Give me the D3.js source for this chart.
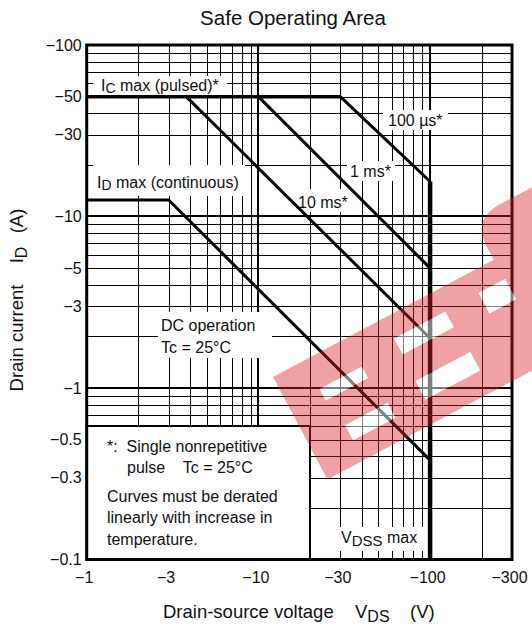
<!DOCTYPE html>
<html><head><meta charset="utf-8">
<script src="https://cdn.jsdelivr.net/npm/d3@7/dist/d3.min.js"></script>
<style>
body{margin:0;background:#fff}
svg{display:block}
text{font-family:"Liberation Sans",Arial,Helvetica,sans-serif;fill:#111}
</style>
</head><body>
<svg id="c" width="532" height="628"></svg>
<script>
// ---- data ----
const xTickVals = [1, 3, 10, 30, 100, 300];
const yTickVals = [0.1, 0.3, 0.5, 1, 3, 5, 10, 30, 50, 100];
const xMinor = [2,3,4,5,6,7,8,9,20,30,40,50,60,70,80,90,200];
const xMajor = [10, 100];
const yMinor = [0.2,0.3,0.4,0.5,0.6,0.7,0.8,0.9,2,3,4,5,6,7,8,9,20,30,40,50,60,70,80,90];
const yMajor = [1, 10];

// curves: drain-source voltage (V) / drain current (A), magnitudes
const icPulsedV = [1, 30],   icPulsedI = [50, 50];
const us100V    = [30, 100], us100I    = [50, 16];
const ms1V      = [10, 100], ms1I      = [50, 5];
const ms10V     = [3.8, 100], ms10I    = [50, 1.95];
const dcV       = [1, 3, 100], dcI     = [12.5, 12.5, 0.38];
const vdssV     = [100, 100], vdssI    = [16, 0.1];

const svg = d3.select("#c");
const x = d3.scaleLog().domain([1, 300]).range([86.7, 512]);
const y = d3.scaleLog().domain([0.1, 100]).range([559.5, 45]);
const X0 = x(1), X1 = x(300), Y0 = y(0.1), Y1 = y(100);

// ---- grid ----
const g = svg.append("g");
const crisp = v => Math.round(v) + 0.5;
g.selectAll(".vx").data(xMinor).join("line")
  .attr("x1", d => crisp(x(d))).attr("x2", d => crisp(x(d)))
  .attr("y1", Y1).attr("y2", Y0).attr("stroke", "#000").attr("stroke-width", 1);
g.selectAll(".hy").data(yMinor).join("line")
  .attr("y1", d => crisp(y(d))).attr("y2", d => crisp(y(d)))
  .attr("x1", X0).attr("x2", X1).attr("stroke", "#000").attr("stroke-width", 1);
g.selectAll(".vX").data(xMajor).join("line")
  .attr("x1", d => Math.round(x(d))).attr("x2", d => Math.round(x(d)))
  .attr("y1", Y1).attr("y2", Y0).attr("stroke", "#000").attr("stroke-width", 2);
g.selectAll(".hY").data(yMajor).join("line")
  .attr("y1", d => Math.round(y(d))).attr("y2", d => Math.round(y(d)))
  .attr("x1", X0).attr("x2", X1).attr("stroke", "#000").attr("stroke-width", 2);

// ---- label backgrounds (interrupt grid) ----
const bgs = [
  [93, 76, 134, 19],   // IC max
  [93, 165, 152, 31],  // ID max
  [383, 110, 65, 20],  // 100 us
  [347, 161, 48, 20],  // 1 ms
  [295, 189, 55, 23],  // 10 ms
  [158, 312, 114, 46], // DC operation
  [336, 527, 88, 24]   // VDSS max
];
svg.append("g").selectAll("rect").data(bgs).join("rect")
  .attr("x", d => d[0]).attr("y", d => d[1]).attr("width", d => d[2]).attr("height", d => d[3])
  .attr("fill", "#fff");

// note box
svg.append("rect").attr("x", X0).attr("y", Math.round(y(0.6)))
  .attr("width", Math.round(x(20)) - X0).attr("height", Y0 - Math.round(y(0.6)))
  .attr("fill", "#fff").attr("stroke", "#000").attr("stroke-width", 2);

// ---- curves ----
const line = d3.line().x(d => x(d[0])).y(d => y(d[1]));
const curve = (vs, is, w) => svg.append("path")
  .attr("d", line(vs.map((v, i) => [v, is[i]])))
  .attr("fill", "none").attr("stroke", "#000").attr("stroke-width", w)
  .attr("stroke-linejoin", "miter");
curve(icPulsedV, icPulsedI, 3.5);
curve(us100V, us100I, 3);
curve(ms1V, ms1I, 3);
curve(ms10V, ms10I, 3);
curve(dcV, dcI, 3);
curve(vdssV, vdssI, 4.5);

// frame
svg.append("rect").attr("x", X0).attr("y", Y1).attr("width", X1 - X0).attr("height", Y0 - Y1)
  .attr("fill", "none").attr("stroke", "#000").attr("stroke-width", 3);

// ---- axes (tick labels) ----
const fmt = d => "\u2212" + d;
const ax = svg.append("g").attr("transform", `translate(0,${Y0})`)
  .call(d3.axisBottom(x).tickValues(xTickVals).tickFormat(fmt).tickSize(0).tickPadding(12));
const ay = svg.append("g").attr("transform", `translate(${X0},0)`)
  .call(d3.axisLeft(y).tickValues(yTickVals).tickFormat(fmt).tickSize(0).tickPadding(5));
[ax, ay].forEach(a => {
  a.select(".domain").remove();
  a.selectAll("text").attr("font-size", 16).attr("fill", "#111")
    .attr("font-family", "'Liberation Sans', Arial, sans-serif");
});
ax.selectAll("text").attr("dx", "-3");

// ---- texts ----
function txt(xp, yp, parts, size = 16, anchor = "start") {
  const t = svg.append("text").attr("x", xp).attr("y", yp).attr("font-size", size)
    .attr("text-anchor", anchor).attr("xml:space", "preserve");
  parts.forEach(p => {
    if (typeof p === "string") t.append("tspan").text(p);
    else t.append("tspan").attr("dy", p.dy).attr("font-size", p.s || size).text(p.t);
  });
  return t;
}
txt(293, 25, ["Safe Operating Area"], 20.5, "middle");

txt(101, 91, ["I", {t: "C", dy: 2, s: 14}, {t: " max (pulsed)*", dy: -2}]);
txt(97, 188, ["I", {t: "D", dy: 2, s: 14}, {t: " max (continuous)", dy: -2}]);
txt(388, 126, ["100 \u00b5s*"]);
txt(350, 177, ["1 ms*"]);
txt(298, 208, ["10 ms*"]);
txt(161, 331, ["DC operation"]);
txt(161, 353, ["Tc = 25\u00b0C"]);
txt(107, 452, ["*:  Single nonrepetitive"]);
txt(127, 473, ["pulse    Tc = 25\u00b0C"]);
txt(107, 502, ["Curves must be derated"]);
txt(107, 523, ["linearly with increase in"]);
txt(107, 545, ["temperature."]);
txt(341, 543, ["V", {t: "DSS", dy: 3, s: 15}, {t: " max", dy: -3}]);

// axis titles
txt(163, 618, ["Drain-source voltage"], 18.5);
txt(355, 618, ["V", {t: "DS", dy: 4, s: 16}], 18.5);
txt(410, 618, ["(V)"], 18.5);

const yl = (cy, parts) => {
  const t = txt(0, 0, parts, 18.5, "middle");
  t.attr("transform", `translate(23,${cy}) rotate(-90)`);
};
yl(338, ["Drain current"]);
yl(255, ["I", {t: "D", dy: 4, s: 16}]);
yl(221, ["(A)"]);

// ---- watermark ----
const wm = svg.append("g").attr("transform", "translate(273,377) rotate(-28)");
const holes = [[59.5, 39, 48, 13], [65, 85, 48, 17], [154, 32, 58, 18], [155, 81, 62, 21], [236, 34, 30, 23]];
let pth = "M0,0 L250,0 L250,-15 Q250,-46 282,-46 L345,-46 L345,116 L0,116 Z";
holes.forEach(h => {
  const hx = h[0] - h[2] / 2, hy = h[1] - h[3] / 2;
  pth += ` M${hx},${hy} h${h[2]} v${h[3]} h${-h[2]} Z`;
});
wm.append("path").attr("d", pth).attr("fill", "rgb(220,32,42)").attr("fill-opacity", 0.42)
  .attr("fill-rule", "evenodd");
wm.selectAll("rect").data(holes).join("rect")
  .attr("x", h => h[0] - h[2] / 2).attr("y", h => h[1] - h[3] / 2)
  .attr("width", h => h[2]).attr("height", h => h[3])
  .attr("fill", "#fff").attr("fill-opacity", 0.5);
</script>
</body></html>
